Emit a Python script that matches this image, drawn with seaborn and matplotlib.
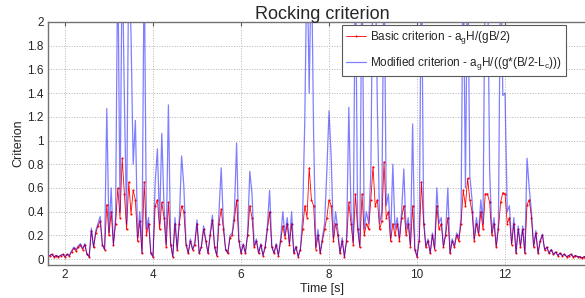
import numpy as np
import matplotlib
matplotlib.use("Agg")
import matplotlib.pyplot as plt
import seaborn as sns

# ---- data ----
t_start = 1.60
dt = 0.05

basic = [
    0.02, 0.03, 0.04, 0.02, 0.03, 0.02, 0.03, 0.04, 0.02, 0.04,
    0.03, 0.06, 0.09, 0.07, 0.10, 0.12, 0.08, 0.12, 0.04, 0.02,
    0.24, 0.10, 0.22, 0.28, 0.32, 0.12, 0.08, 0.46, 0.20, 0.40,
    0.12, 0.30, 0.60, 0.35, 0.85, 0.55, 0.25, 0.65, 0.38, 0.58,
    0.50, 0.15, 0.32, 0.05, 0.65, 0.20, 0.30, 0.05, 0.02, 0.45,
    0.50, 0.25, 0.48, 0.35, 0.10, 0.48, 0.12, 0.02, 0.30, 0.08,
    0.30, 0.45, 0.40, 0.12, 0.05, 0.15, 0.08, 0.12, 0.30, 0.05,
    0.10, 0.25, 0.15, 0.05, 0.20, 0.33, 0.10, 0.03, 0.30, 0.42,
    0.25, 0.08, 0.05, 0.18, 0.20, 0.33, 0.50, 0.15, 0.05, 0.12,
    0.05, 0.20, 0.45, 0.35, 0.10, 0.15, 0.05, 0.12, 0.03, 0.10,
    0.25, 0.40, 0.10, 0.05, 0.12, 0.03, 0.15, 0.28, 0.18, 0.30,
    0.12, 0.30, 0.05, 0.10, 0.02, 0.08, 0.25, 0.45, 0.35, 0.77,
    0.50, 0.45, 0.08, 0.20, 0.05, 0.15, 0.25, 0.35, 0.50, 0.45,
    0.15, 0.30, 0.20, 0.05, 0.15, 0.02, 0.15, 0.48, 0.30, 0.12,
    0.55, 0.25, 0.10, 0.55, 0.20, 0.30, 0.25, 0.50, 0.78, 0.45,
    0.50, 0.25, 0.32, 0.82, 0.35, 0.40, 0.15, 0.30, 0.20, 0.30,
    0.15, 0.35, 0.45, 0.20, 0.30, 0.10, 0.45, 0.08, 0.02, 0.15,
    0.65, 0.30, 0.10, 0.15, 0.05, 0.20, 0.08, 0.45, 0.25, 0.30,
    0.10, 0.20, 0.35, 0.05, 0.15, 0.10, 0.20, 0.15, 0.30, 0.58,
    0.45, 0.68, 0.50, 0.40, 0.15, 0.30, 0.20, 0.40, 0.25, 0.55,
    0.55, 0.48, 0.20, 0.30, 0.10, 0.25, 0.48, 0.56, 0.55, 0.30,
    0.35, 0.12, 0.30, 0.05, 0.25, 0.10, 0.25, 0.05, 0.46, 0.50,
    0.35, 0.10, 0.22, 0.05, 0.15, 0.20, 0.08, 0.10, 0.05, 0.08,
    0.04, 0.06, 0.03, 0.05, 0.03, 0.04, 0.02, 0.03, 0.04, 0.02,
    0.03, 0.02, 0.02, 0.01, 0.02, 0.01, 0.01,
]

modified = [
    0.02, 0.03, 0.04, 0.02, 0.03, 0.02, 0.03, 0.04, 0.02, 0.04,
    0.03, 0.07, 0.10, 0.08, 0.11, 0.13, 0.09, 0.13, 0.04, 0.02,
    0.26, 0.10, 0.24, 0.30, 0.36, 0.12, 0.08, 1.27, 0.22, 0.60,
    0.12, 0.35, 2.60, 0.40, 2.60, 1.35, 0.30, 2.60, 1.90, 0.80,
    1.17, 0.18, 0.40, 0.05, 2.60, 0.25, 0.35, 0.05, 0.02, 0.65,
    0.93, 0.30, 1.06, 0.45, 0.12, 1.30, 0.15, 0.02, 0.35, 0.08,
    0.35, 0.87, 0.62, 0.14, 0.05, 0.17, 0.08, 0.14, 0.33, 0.05,
    0.11, 0.28, 0.16, 0.05, 0.22, 0.37, 0.10, 0.03, 0.40, 0.77,
    0.30, 0.08, 0.05, 0.20, 0.22, 0.40, 0.98, 0.18, 0.05, 0.13,
    0.05, 0.22, 0.74, 0.55, 0.11, 0.17, 0.05, 0.13, 0.03, 0.11,
    0.28, 0.58, 0.11, 0.05, 0.13, 0.03, 0.17, 0.40, 0.20, 0.35,
    0.13, 0.40, 0.05, 0.11, 0.02, 0.09, 0.35, 1.18, 2.60, 1.40,
    2.60, 1.05, 0.10, 0.25, 0.05, 0.18, 0.30, 0.74, 1.25, 0.85,
    0.18, 0.40, 0.25, 0.05, 0.18, 0.02, 0.18, 1.28, 0.40, 0.14,
    2.60, 0.30, 0.11, 2.60, 0.25, 0.40, 0.30, 0.72, 2.60, 2.60,
    1.25, 0.30, 0.40, 2.60, 0.45, 0.55, 0.18, 0.80, 0.25, 0.35,
    0.18, 0.40, 0.76, 0.25, 0.35, 0.12, 1.14, 0.09, 0.02, 0.18,
    2.60, 0.35, 0.11, 0.17, 0.05, 0.22, 0.09, 0.60, 0.30, 0.35,
    0.11, 0.22, 0.60, 0.05, 0.17, 0.11, 0.22, 0.17, 0.35, 2.60,
    0.60, 2.60, 0.70, 0.50, 0.17, 0.35, 0.22, 0.50, 0.30, 2.60,
    2.60, 0.75, 0.22, 0.35, 0.11, 0.30, 2.60, 1.38, 1.40, 0.40,
    0.45, 0.13, 0.35, 0.05, 0.28, 0.11, 0.28, 0.05, 0.85, 0.60,
    0.40, 0.11, 0.24, 0.05, 0.16, 0.21, 0.08, 0.10, 0.05, 0.08,
    0.04, 0.06, 0.03, 0.05, 0.03, 0.04, 0.02, 0.03, 0.04, 0.02,
    0.03, 0.02, 0.02, 0.01, 0.02, 0.01, 0.01,
]

time = t_start + dt * np.arange(len(basic))

x_ticks = [2, 4, 6, 8, 10, 12]
y_ticks = [0, 0.2, 0.4, 0.6, 0.8, 1, 1.2, 1.4, 1.6, 1.8, 2]
y_tick_labels = ["0", "0.2", "0.4", "0.6", "0.8", "1", "1.2", "1.4", "1.6", "1.8", "2"]

label_basic = r"Basic criterion - a$_\mathregular{g}$H/(gB/2)"
label_mod = r"Modified criterion - a$_\mathregular{g}$H/((g*(B/2-L$_\mathregular{c}$)))"

# ---- style ----
sns.set_style("white")
plt.rcParams["font.family"] = ["Liberation Sans", "DejaVu Sans"]
plt.rcParams["mathtext.fontset"] = "custom"
plt.rcParams["mathtext.rm"] = "Liberation Sans"

fig = plt.figure(figsize=(5.85, 2.98), dpi=100)
W, H = 585, 298
ax_left, ax_right, ax_top, ax_bottom = 48, 597, 22, 265
ax = fig.add_axes([ax_left / W, (H - ax_bottom) / H,
                   (ax_right - ax_left) / W, (ax_bottom - ax_top) / H])

sns.lineplot(x=time, y=basic, ax=ax, color="red", linewidth=0.6,
             marker=".", markersize=3, markeredgewidth=0, label=label_basic)
sns.lineplot(x=time, y=modified, ax=ax, color="blue", linewidth=0.9,
             alpha=0.5, label=label_mod)

ax.set_xlim(1.614, 14.09)
ax.set_ylim(-0.05, 2)
ax.set_xticks(x_ticks)
ax.set_xticklabels([str(v) for v in x_ticks])
ax.set_yticks(y_ticks)
ax.set_yticklabels(y_tick_labels)
ax.tick_params(axis="both", labelsize=8.5, direction="in", length=3,
               color="0.35", pad=3, top=True, right=False)
ax.grid(True, linestyle=":", color="0.7", linewidth=0.7)

for side in ["left", "bottom", "top"]:
    ax.spines[side].set_color("0.45")
    ax.spines[side].set_linewidth(1.0)
ax.spines["right"].set_visible(False)

ax.set_title("Rocking criterion", fontsize=13, pad=2)
ax.set_xlabel("Time [s]", fontsize=9, labelpad=1)
ax.set_ylabel("Criterion", fontsize=9, labelpad=2)

leg = ax.legend(loc="upper left", bbox_to_anchor=((342 - ax_left) / (ax_right - ax_left), 0.988),
                borderaxespad=0, fontsize=8.5, frameon=True, fancybox=False,
                edgecolor="0.35", framealpha=1, labelspacing=0.75,
                handlelength=1.7, handletextpad=0.3, borderpad=0.35)
leg.get_frame().set_linewidth(0.8)

fig.savefig("out.png", dpi=100)
